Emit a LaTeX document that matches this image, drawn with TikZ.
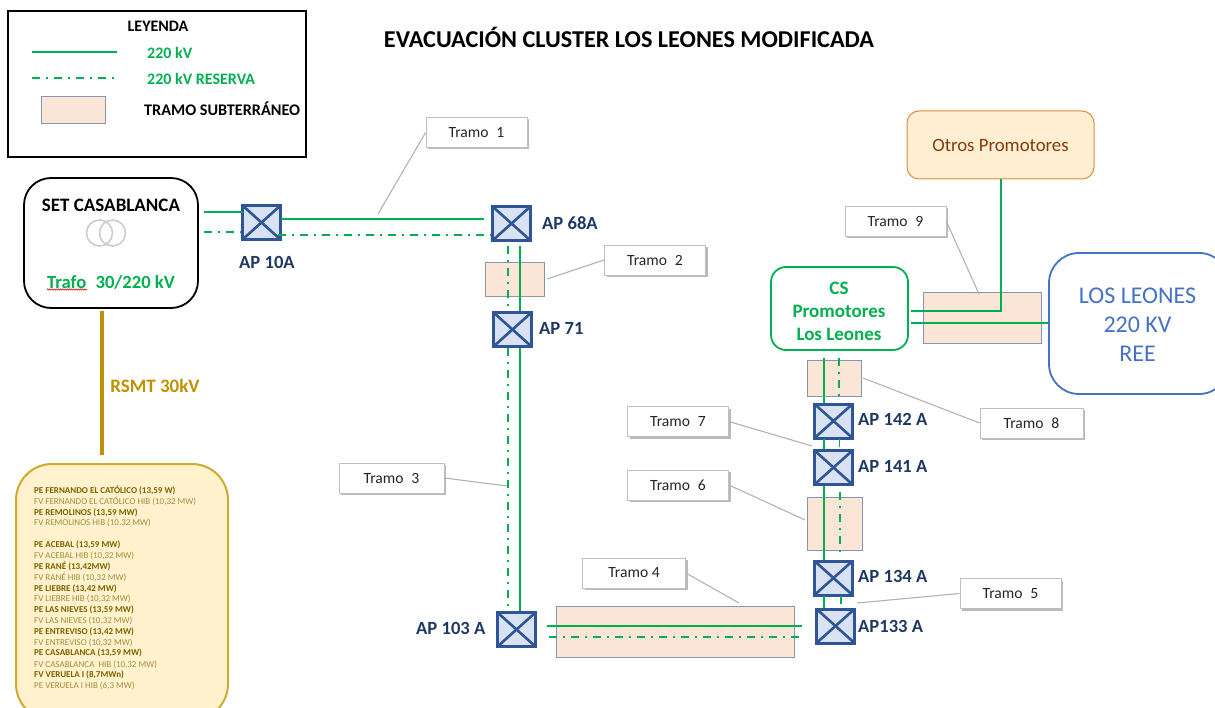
\documentclass[tikz,border=0pt]{standalone}
\usepackage{fontspec}
\setmainfont{Carlito}
\usetikzlibrary{shadows,decorations.pathmorphing}
\definecolor{gline}{HTML}{00B050}
\definecolor{ugfill}{HTML}{FBE5D6}
\definecolor{ugdraw}{HTML}{8496B0}
\definecolor{apfill}{HTML}{D9E2F3}
\definecolor{apdraw}{HTML}{2F5597}
\definecolor{aptext}{HTML}{203864}
\definecolor{gold}{HTML}{BF9000}
\definecolor{listb}{HTML}{7F6000}
\definecolor{listr}{HTML}{A38B3F}
\definecolor{lblue}{HTML}{4472C4}
\definecolor{listfillc}{HTML}{FFF2CC}
\definecolor{listdraw}{HTML}{D0A92E}
\definecolor{otrosfill}{HTML}{FEEFD2}
\definecolor{otrosdraw}{HTML}{E08A3C}
\definecolor{otrostext}{HTML}{843C0C}
\newcommand{\fs}[1]{\fontsize{#1}{#1}\selectfont}
\tikzset{
  x=1pt,y=-1pt,
  solidline/.style={draw=gline,line width=2pt},
  reserve/.style={draw=gline,line width=1.6pt,dash pattern=on 8pt off 6pt on 2pt off 6pt},
  ugbox/.style={draw=ugdraw,fill=ugfill,line width=1pt,inner sep=0pt},
  apbox/.style={draw=apdraw,fill=apfill,line width=3pt,inner sep=0pt,minimum width=38pt,minimum height=34pt,
    path picture={\draw[apdraw,line width=2.6pt] (path picture bounding box.north west)--(path picture bounding box.south east)
      (path picture bounding box.north east)--(path picture bounding box.south west);}},
  aplabel/.style={text=aptext,font=\fs{18.6}\bfseries,anchor=west,inner sep=0pt},
  tramo/.style={draw=black!25,fill=white,line width=.8pt,minimum width=101pt,minimum height=30pt,inner sep=0pt,font=\fs{15.6},text=black!85,
    drop shadow={shadow xshift=2pt,shadow yshift=-2pt,fill=black!45,opacity=.6}},
  callout/.style={draw=black!30,line width=1.1pt},
  gtext/.style={text=gline,inner sep=0pt},
  ltitem/.style={anchor=west,inner sep=0pt,font=\fs{9}},
}
\begin{document}
\begin{tikzpicture}
\useasboundingbox (0,0) rectangle (1215,708);
\clip (0,0) rectangle (1215,708);
% legend
\node[draw=black,line width=2pt,minimum width=298pt,minimum height=146pt,inner sep=0pt] (legend) at (157,84.5) {};
\node[font=\fs{16}\bfseries,inner sep=0pt] (legt) at (158,26) {LEYENDA};
\coordinate (la) at (32,52); \coordinate (lb) at (117,52);
\coordinate (lc) at (32,78); \coordinate (ld) at (117,78);
\draw[solidline] (la)--(lb);
\draw[reserve] (lc)--(ld);
\node[gtext,anchor=west,font=\fs{16}\bfseries] (l1) at (147,53) {220 kV};
\node[gtext,anchor=west,font=\fs{16}\bfseries] (l2) at (147,79) {220 kV RESERVA};
\node[ugbox,minimum width=64pt,minimum height=27pt] (lug) at (73,110.5) {};
\node[font=\fs{16.2}\bfseries,anchor=west,inner sep=0pt] (l3) at (144,109) {TRAMO SUBTERRÁNEO};
% title
\node[font=\fs{24.2}\bfseries,inner sep=0pt] (title) at (629,37.5) {EVACUACIÓN CLUSTER LOS LEONES MODIFICADA};
% SET Casablanca
\node[draw=black,line width=1.8pt,rounded corners=27pt,minimum width=174pt,minimum height=130pt,fill=white] (set) at (111,243) {};
\node[font=\fs{19}\bfseries,inner sep=0pt] (sett) at (111,205) {SET CASABLANCA};
\draw[black!20,line width=1.6pt] (99.5,233) circle (13) (112.5,233) circle (13);
\node[gtext,font=\fs{18.6}\bfseries] (traf) at (111,282) {Trafo\hspace{.5em}30/220 kV};
\draw[red!80!black,line width=.5pt,decorate,decoration={zigzag,amplitude=.7pt,segment length=2.2pt}] (47,289.5)--(87,289.5);
% RSMT
\coordinate (rb) at (102,455); \coordinate (rt) at (102,311);
\draw[gold,line width=4pt] (rt)--(rb);
\node[text=gold,font=\fs{19}\bfseries,inner sep=0pt] (rsmt) at (155,386) {RSMT 30kV};
% list
\node[draw=listdraw,fill=listfillc,line width=2pt,rounded corners=36pt,minimum width=212pt,minimum height=256pt] (list) at (122,592) {};
\foreach \yy/\txt/\cc in {
490/PE FERNANDO EL CATÓLICO (13{,}59 W)/b,501.5/FV FERNANDO EL CATÓLICO HIB (10{,}32 MW)/r,
512.5/PE REMOLINOS (13{,}59 MW)/b,523/FV REMOLINOS HIB (10{,}32 MW)/r,
544.5/PE ACEBAL (13{,}59 MW)/b,555.5/FV ACEBAL HIB (10{,}32 MW)/r,
566/PE RANÉ (13{,}42MW)/b,577/FV RANÉ HIB (10{,}32 MW)/r,
588.5/PE LIEBRE (13{,}42 MW)/b,599/FV LIEBRE HIB (10{,}32 MW)/r,
610/PE LAS NIEVES (13{,}59 MW)/b,620.5/FV LAS NIEVES (10{,}32 MW)/r,
631.5/PE ENTREVISO (13{,}42 MW)/b,642.5/FV ENTREVISO (10{,}32 MW)/r,
653/PE CASABLANCA (13{,}59 MW)/b,664.5/FV CASABLANCA\ \ HIB (10{,}32 MW)/r,
675/FV VERUELA I (8{,}7MWn)/b,686/PE VERUELA I HIB (6{,}3 MW)/r}{
  \if\cc b\node[ltitem,text=listb,font=\fs{9}\bfseries] at (34,\yy) {\txt};
  \else\node[ltitem,text=listr] at (34,\yy) {\txt};\fi
}
% underground boxes
\node[ugbox,minimum width=59pt,minimum height=34pt] (u2) at (514.5,280) {};
\node[ugbox,minimum width=238pt,minimum height=51pt] (u4) at (675,631.5) {};
\node[ugbox,minimum width=55pt,minimum height=53pt] (u6) at (834.5,523.5) {};
\node[ugbox,minimum width=54pt,minimum height=35pt] (u8) at (834,378.5) {};
\node[ugbox,minimum width=118pt,minimum height=51pt] (u9) at (982,318.5) {};
% switching nodes
\node[apbox] (ap10) at (261.5,222.5) {};
\node[apbox] (ap68) at (511.5,223.5) {};
\node[apbox] (ap71) at (512.5,329.5) {};
\node[apbox] (ap103) at (516.5,629.5) {};
\node[apbox] (ap133) at (835.5,626) {};
\node[apbox] (ap134) at (833.5,578) {};
\node[apbox] (ap141) at (833.5,467.5) {};
\node[apbox] (ap142) at (833.5,421) {};
\node[aplabel] at (239,262) {AP 10A};
\node[aplabel] at (542,223) {AP 68A};
\node[aplabel] at (539,328) {AP 71};
\node[aplabel] at (416,628) {AP 103 A};
\node[aplabel] at (858,626) {AP133 A};
\node[aplabel] at (858,576) {AP 134 A};
\node[aplabel] at (858,466) {AP 141 A};
\node[aplabel] at (858,419) {AP 142 A};
% big nodes
\node[draw=gline,line width=1.8pt,rounded corners=15pt,minimum width=137pt,minimum height=83pt,fill=white,inner sep=0pt] (cs) at (839.5,308.5) {};
\node[align=center,inner sep=0pt,font=\fs{19}\bfseries,text=gline] (cst) at (839,311) {CS\\[4pt]Promotores\\[4pt]Los Leones};
\node[draw=otrosdraw,line width=1pt,rounded corners=12pt,minimum width=187pt,minimum height=68pt,fill=otrosfill,text=otrostext,font=\fs{18.8}] (otros) at (1000.5,145) {Otros Promotores};
\node[draw=lblue,line width=1.8pt,rounded corners=30pt,minimum width=180pt,minimum height=141pt,fill=white,inner sep=0pt] (ll) at (1139,323.5) {};
\node[text=lblue,font=\fs{24},align=center,inner sep=0pt] (llt) at (1137.5,324.5) {LOS LEONES\\[5pt]220 KV\\[5pt]REE};
% horizontal lines
\coordinate (a) at (204,212); \coordinate (b) at (243,212);
\coordinate (c) at (204,232); \coordinate (d) at (241,232);
\draw[solidline] (a)--(b);
\draw[reserve] (c)--(d);
\coordinate (e) at (280.5,219); \coordinate (f) at (484,219);
\coordinate (g) at (278,235); \coordinate (h) at (491,235);
\draw[solidline] (e)--(f);
\draw[reserve] (g)--(h);
\coordinate (i) at (547,625.5); \coordinate (j) at (802,625.5);
\coordinate (k) at (549,637); \coordinate (l) at (802,637);
\draw[solidline] (i)--(j);
\draw[reserve] (k)--(l);
% verticals AP 68-103
\coordinate (s1) at (519.5,246); \coordinate (s2) at (519.5,311);
\coordinate (s3) at (519.5,348); \coordinate (s4) at (519.5,611);
\coordinate (r1) at (508,246); \coordinate (r2) at (508,311);
\coordinate (r3) at (508,348); \coordinate (r4) at (508,611);
\draw[solidline] (s1)--(s2) (s3)--(s4);
\draw[reserve] (r1)--(r2) (r3)--(r4);
% verticals AP 133-CS
\coordinate (t1) at (824,358); \coordinate (t2) at (824,403);
\coordinate (t3) at (824,439); \coordinate (t4) at (824,449);
\coordinate (t5) at (824,486); \coordinate (t6) at (824,560);
\coordinate (t7) at (824,596); \coordinate (t8) at (824,608);
\draw[solidline] (t1)--(t2) (t3)--(t4) (t5)--(t6) (t7)--(t8);
\coordinate (q1) at (839,358); \coordinate (q2) at (839,401);
\coordinate (q3) at (839.5,439); \coordinate (q4) at (839.5,449);
\coordinate (q5) at (840,492); \coordinate (q6) at (840,553);
\coordinate (q7) at (841,596); \coordinate (q8) at (841,608);
\draw[reserve] (q1)--(q2) (q3)--(q4) (q5)--(q6) (q7)--(q8);
% cs to leones and others
\coordinate (m1) at (911,311); \coordinate (m2) at (1001,311);
\coordinate (m3) at (911,323); 
\draw[solidline] (m1)--(m2)--(otros.south -| m2);
\draw[solidline] (m3)--(m3 -| ll.west);
% tramo labels
\node[tramo] (n1) at (476.5,132.5) {Tramo\hspace{.5em}1};
\node[tramo] (n2) at (655,260) {Tramo\hspace{.5em}2};
\node[tramo,minimum width=105pt] (n3) at (391.5,478) {Tramo\hspace{.5em}3};
\node[tramo,minimum width=103pt] (n4) at (634,573) {Tramo 4};
\node[tramo] (n5) at (1010.5,593.5) {Tramo\hspace{.5em}5};
\node[tramo] (n6) at (678,485) {Tramo\hspace{.5em}6};
\node[tramo] (n7) at (678,421.5) {Tramo\hspace{.5em}7};
\node[tramo,minimum width=103pt] (n8) at (1031.5,423) {Tramo\hspace{.5em}8};
\node[tramo] (n9) at (895.5,221.5) {Tramo\hspace{.5em}9};
\coordinate (c1) at (378,214); \coordinate (c2) at (547,279);
\coordinate (c3) at (507,486); \coordinate (c4) at (739,603);
\coordinate (c5) at (857,603); \coordinate (c6) at (805,520);
\coordinate (c7) at (812,446); \coordinate (c8) at (863,378);
\coordinate (c9) at (979,294);
\draw[callout] (n1.west)--(c1);
\draw[callout] (n2.west)--(c2);
\draw[callout] (n3.east)--(c3);
\draw[callout] (n4.east)--(c4);
\draw[callout] (n5.west)--(c5);
\draw[callout] (n6.east)--(c6);
\draw[callout] (n7.east)--(c7);
\draw[callout] (n8.west)--(c8);
\draw[callout] (n9.east)--(c9);
\end{tikzpicture}
\end{document}
